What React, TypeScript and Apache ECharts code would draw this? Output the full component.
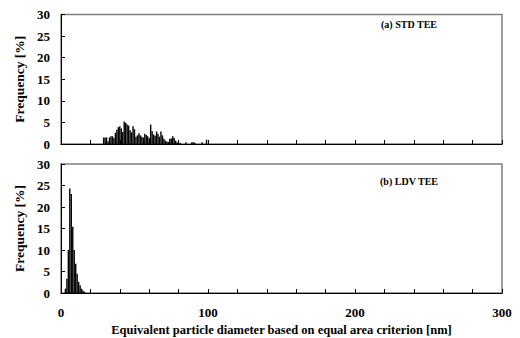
import React, { useEffect, useRef } from "react";
import * as echarts from "echarts";

// (a) STD TEE: diameter [nm] and frequency [%]
const stdDiameter = [29, 30, 31, 32, 33, 34, 35, 36, 37, 38, 39, 40, 41, 42, 43, 44, 45, 46, 47, 48, 49, 50, 51, 52, 53, 54, 55, 56, 57, 58, 59, 60, 61, 62, 63, 64, 65, 66, 67, 68, 69, 70, 71, 72, 73, 74, 75, 76, 77, 78, 79, 81, 85, 89, 90, 91, 96, 99];
const stdFrequency = [1.5, 1.5, 1.5, 0.6, 1.5, 1.8, 1.8, 1.4, 2.6, 3.3, 3.9, 4.1, 3.6, 2.8, 5.2, 4.9, 4.5, 4.3, 3.2, 2.7, 4.1, 3.4, 1.7, 2.0, 2.5, 2.0, 1.7, 1.5, 2.4, 2.1, 1.8, 1.4, 4.5, 3.0, 2.2, 1.9, 2.9, 2.4, 1.7, 2.9, 2.0, 1.2, 0.8, 0.6, 0.5, 1.2, 1.3, 1.8, 1.4, 0.8, 0.4, 0.3, 0.4, 0.4, 0.4, 0.3, 0.4, 1.0];

// (b) LDV TEE
const ldvDiameter = [3, 4, 5, 6, 7, 8, 9, 10, 11, 12, 13, 14, 15, 16];
const ldvFrequency = [1.0, 3.3, 10.0, 24.3, 23.0, 15.4, 10.0, 6.8, 4.5, 2.6, 1.8, 1.0, 0.6, 0.3];

const xTicks = [0, 100, 200, 300];
const yTicks = [0, 5, 10, 15, 20, 25, 30];

const FONT = "'Liberation Serif', 'Times New Roman', serif";

export default function App() {
  const ref = useRef<HTMLDivElement>(null);
  useEffect(() => {
    document.body.style.margin = "0";
    if (!ref.current) return;
    const chart = echarts.init(ref.current, undefined, { renderer: "svg" });
    const textBase = { fontFamily: FONT, fontWeight: "bold" as const, color: "#000" };
    const mkX = (gridIndex: number, showLabels: boolean) => ({
      type: "value" as const,
      gridIndex,
      min: 0,
      max: 300,
      interval: 20,
      axisLine: { show: true, lineStyle: { color: "#000", width: 1 } },
      axisTick: { show: true, inside: true, length: 4, lineStyle: { color: "#000" } },
      splitLine: { show: false },
      axisLabel: {
        show: showLabels,
        ...textBase,
        fontSize: 13,
        margin: 13,
        formatter: (v: number) => (xTicks.includes(v) ? String(v) : ""),
      },
      name: showLabels ? "Equivalent particle diameter based on equal area criterion [nm]" : "",
      nameLocation: "middle" as const,
      nameGap: 30,
      nameTextStyle: { ...textBase, fontSize: 12.5 },
    });
    const mkY = (gridIndex: number) => ({
      type: "value" as const,
      gridIndex,
      min: yTicks[0],
      max: yTicks[yTicks.length - 1],
      interval: 5,
      axisLine: { show: true, lineStyle: { color: "#000", width: 1 } },
      axisTick: { show: true, inside: true, length: 4, lineStyle: { color: "#000" } },
      splitLine: { show: false },
      axisLabel: { ...textBase, fontSize: 13, margin: 11 },
      name: "Frequency [%]",
      nameLocation: "middle" as const,
      nameGap: 33,
      nameTextStyle: { ...textBase, fontSize: 13.5 },
    });
    const gridCommon = {
      left: 61,
      width: 441,
      show: true,
      borderColor: "#808080",
      borderWidth: 1.5,
      backgroundColor: "transparent",
    };
    chart.setOption({
      animation: false,
      grid: [
        { ...gridCommon, top: 14.5, height: 129.5 },
        { ...gridCommon, top: 164, height: 129 },
      ],
      xAxis: [mkX(0, false), mkX(1, true)],
      yAxis: [mkY(0), mkY(1)],
      series: [
        {
          type: "bar",
          xAxisIndex: 0,
          yAxisIndex: 0,
          barWidth: 1.4,
          itemStyle: { color: "#000" },
          data: stdDiameter.map((d, i) => [d, stdFrequency[i]]),
        },
        {
          type: "bar",
          xAxisIndex: 1,
          yAxisIndex: 1,
          barWidth: 1.4,
          itemStyle: { color: "#000" },
          data: ldvDiameter.map((d, i) => [d, ldvFrequency[i]]),
        },
      ],
      graphic: [
        { type: "text", x: 409, y: 24, style: { text: "(a) STD TEE", font: `bold 10px ${FONT}`, fill: "#000", align: "center", verticalAlign: "middle" } },
        { type: "text", x: 409, y: 181, style: { text: "(b) LDV TEE", font: `bold 10px ${FONT}`, fill: "#000", align: "center", verticalAlign: "middle" } },
      ],
    });
    return () => chart.dispose();
  }, []);
  return <div ref={ref} style={{ width: 520, height: 338 }} />;
}
